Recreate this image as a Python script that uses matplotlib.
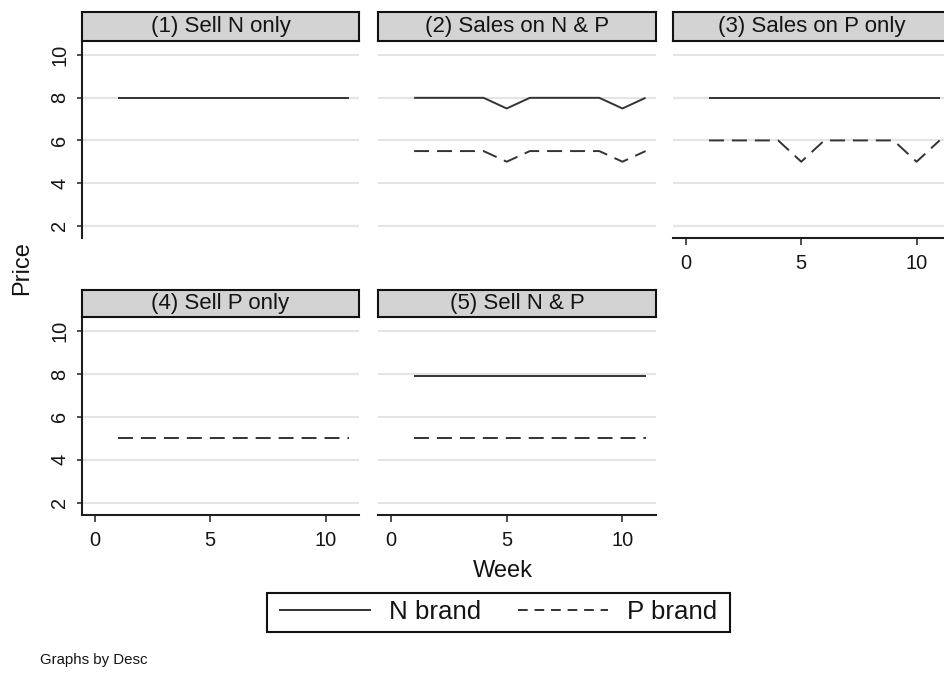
import matplotlib
matplotlib.use("Agg")
import matplotlib.pyplot as plt
from matplotlib.lines import Line2D
from matplotlib.patches import Rectangle

plt.rcParams['font.family'] = ['Liberation Sans', 'DejaVu Sans']

# ---- data -------------------------------------------------------------
weeks = [1, 2, 3, 4, 5, 6, 7, 8, 9, 10, 11]
panel_titles = ["(1) Sell N only", "(2) Sales on N & P", "(3) Sales on P only",
                "(4) Sell P only", "(5) Sell N & P"]
n_brand = [
    [8, 8, 8, 8, 8, 8, 8, 8, 8, 8, 8],
    [8, 8, 8, 8, 7.5, 8, 8, 8, 8, 7.5, 8],
    [8, 8, 8, 8, 8, 8, 8, 8, 8, 8, 8],
    None,
    [7.9, 7.9, 7.9, 7.9, 7.9, 7.9, 7.9, 7.9, 7.9, 7.9, 7.9],
]
p_brand = [
    None,
    [5.5, 5.5, 5.5, 5.5, 5, 5.5, 5.5, 5.5, 5.5, 5, 5.5],
    [6, 6, 6, 6, 5, 6, 6, 6, 6, 5, 6],
    [5, 5, 5, 5, 5, 5, 5, 5, 5, 5, 5],
    [5, 5, 5, 5, 5, 5, 5, 5, 5, 5, 5],
]
y_ticks = [2, 4, 6, 8, 10]
x_ticks = [0, 5, 10]
series_labels = ["N brand", "P brand"]

# ---- layout (pixel geometry) -----------------------------------------
W, H = 944, 677
fig = plt.figure(figsize=(W / 100, H / 100), dpi=100)

cols = [(82, 359), (378, 656), (673, 950)]
rows = [(42, 238), (318, 515)]
strips = [(12, 41), (290, 317)]

INK = "#1e1e1e"
LINE = "#333333"
GRID = "#e4e4e4"
LW = 1.4
DASH = (0, (7.7, 4.1))


def rect(x0, x1, ytop, ybot):
    return [x0 / W, 1 - ybot / H, (x1 - x0) / W, (ybot - ytop) / H]


# which panels carry a left (y) axis and a bottom (x) axis
has_y = [True, False, False, True, False]
has_x = [False, False, True, True, True]
grid_pos = [(0, 0), (0, 1), (0, 2), (1, 0), (1, 1)]

for i, (r, c) in enumerate(grid_pos):
    x0, x1 = cols[c]
    ax = fig.add_axes(rect(x0, x1, *rows[r]))
    ax.set_xlim(-0.56, 11.45)
    ax.set_ylim(1.42, 10.62)
    ax.set_yticks(y_ticks)
    ax.set_xticks(x_ticks)
    ax.grid(axis='y', color=GRID, lw=1.5, zorder=0)
    ax.set_axisbelow(True)
    for s in ax.spines.values():
        s.set_visible(False)
    ax.spines['left'].set_visible(has_y[i])
    ax.spines['bottom'].set_visible(has_x[i])
    for s in ('left', 'bottom'):
        ax.spines[s].set_linewidth(1.5)
        ax.spines[s].set_color(INK)
    ax.tick_params(axis='y', left=has_y[i], labelleft=has_y[i], length=3.6,
                   width=1.1, color=INK, labelsize=14.4, labelrotation=90,
                   pad=5.5, labelcolor="#151515")
    ax.tick_params(axis='x', bottom=has_x[i], labelbottom=has_x[i], length=5,
                   width=1.1, color=INK, labelsize=14.4, pad=6.5,
                   labelcolor="#151515")
    for lab in ax.get_yticklabels():
        lab.set_va('center')

    if n_brand[i] is not None:
        ax.plot(weeks, n_brand[i], color=LINE, lw=LW, solid_capstyle='butt')
    if p_brand[i] is not None:
        ax.plot(weeks, p_brand[i], color=LINE, lw=LW, linestyle=DASH,
                dash_capstyle='butt')

    # title strip
    sax = fig.add_axes(rect(x0, x1, *strips[r]))
    sax.set_facecolor("#d3d3d3")
    sax.set_xticks([])
    sax.set_yticks([])
    for s in sax.spines.values():
        s.set_linewidth(1.5)
        s.set_color("#111111")
    sax.text(0.5, 0.5, panel_titles[i], transform=sax.transAxes,
             ha='center', va='center', fontsize=16, color="#141414")

# axis titles and note
fig.text(503 / W, 1 - 571 / H, "Week", ha='center', va='center',
         fontsize=17, color="#141414")
fig.text(22 / W, 1 - 268 / H, "Price", ha='center', va='center',
         rotation=90, fontsize=17, color="#141414")
fig.text(40 / W, 1 - 660 / H, "Graphs by Desc", ha='left', va='center',
         fontsize=10.8, color="#141414")

# legend
handles = [Line2D([], [], color=LINE, lw=LW),
           Line2D([], [], color=LINE, lw=LW, linestyle=(0, (5, 3.5)))]
fig.legend(handles, series_labels, loc='center', ncol=2, frameon=False,
           bbox_to_anchor=(498.5 / W, 1 - 612 / H), fontsize=18.6,
           handlelength=3.5, handletextpad=0.73, columnspacing=1.4,
           borderpad=0.0, labelcolor="#141414")
fig.patches.append(Rectangle((267 / W, 1 - 632 / H), (730 - 267) / W,
                             (632 - 593) / H, transform=fig.transFigure,
                             fill=False, edgecolor="#111111", lw=1.5))

fig.savefig("out.png", dpi=100, facecolor="white")
